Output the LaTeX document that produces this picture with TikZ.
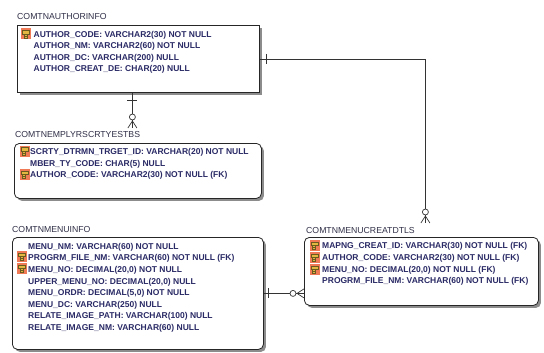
\documentclass[tikz,border=0pt]{standalone}
\usepackage{fontspec}
\setmainfont{Liberation Sans}
\usetikzlibrary{calc,shadows}
\definecolor{txt}{HTML}{2A2A66}
\definecolor{ttl}{HTML}{303048}
\definecolor{iconbg}{HTML}{F07A55}
\definecolor{iconkey}{HTML}{E2B840}
\definecolor{iconline}{HTML}{6A5A20}
\begin{document}
\begin{tikzpicture}[x=1pt,y=-1pt,
  ent/.style={draw=black!85, line width=0.8pt, fill=white, anchor=north west, inner sep=0pt,
    drop shadow={shadow xshift=2.5pt, shadow yshift=-2.5pt, fill=black!45, opacity=1}},
  rnd/.style={rounded corners=5pt},
  fld/.style={anchor=base west, inner sep=0pt, text=txt, font=\fontsize{8.5}{10}\selectfont\bfseries},
  ttlnode/.style={anchor=base west, inner sep=0pt, text=ttl, font=\fontsize{8.7}{10}\selectfont},
  conn/.style={draw=black!80, line width=0.7pt},
  keyicon/.pic={
    \fill[iconbg] (0,0) rectangle (10,11);
    \fill[iconkey, draw=iconline, line width=0.4pt] (1.5,2) rectangle (8.5,5.5);
    \fill[iconkey, draw=iconline, line width=0.4pt] (3,5.5) rectangle (6,9.5);
    \draw[iconline, line width=0.4pt] (3,7.5) -- (6,7.5);
  }
]
\useasboundingbox (0,0) rectangle (544,353);

% entities
\node[ent, minimum width=242, minimum height=67] (author) at (17,25) {};
\node[ent, rnd, minimum width=247, minimum height=55] (emp) at (14,143) {};
\node[ent, rnd, minimum width=251, minimum height=112] (menu) at (12,237) {};
\node[ent, rnd, minimum width=234, minimum height=68] (creat) at (304,237) {};

% titles
\node[ttlnode] (authorT) at (17,20) {COMTNAUTHORINFO};
\node[ttlnode] (empT) at (15,138) {COMTNEMPLYRSCRTYESTBS};
\node[ttlnode] (menuT) at (12,232) {COMTNMENUINFO};
\node[ttlnode] (creatT) at (306,233) {COMTNMENUCREATDTLS};

% fields
\foreach [count=\i from 0] \t in {{AUTHOR\_CODE: VARCHAR2(30) NOT NULL},{AUTHOR\_NM: VARCHAR2(60) NOT NULL},{AUTHOR\_DC: VARCHAR(200) NULL},{AUTHOR\_CREAT\_DE: CHAR(20) NULL}}
  \node[fld] (au\i) at (33.5,37.2+11.5*\i) {\t};

\foreach [count=\i from 0] \t in {{SCRTY\_DTRMN\_TRGET\_ID: VARCHAR(20) NOT NULL},{MBER\_TY\_CODE: CHAR(5) NULL},{AUTHOR\_CODE: VARCHAR2(30) NOT NULL (FK)}}
  \node[fld] (em\i) at (30,154.2+11.8*\i) {\t};

\foreach [count=\i from 0] \t in {{MENU\_NM: VARCHAR(60) NOT NULL},{PROGRM\_FILE\_NM: VARCHAR(60) NOT NULL (FK)},{MENU\_NO: DECIMAL(20,0) NOT NULL},{UPPER\_MENU\_NO: DECIMAL(20,0) NULL},{MENU\_ORDR: DECIMAL(5,0) NOT NULL},{MENU\_DC: VARCHAR(250) NULL},{RELATE\_IMAGE\_PATH: VARCHAR(100) NULL},{RELATE\_IMAGE\_NM: VARCHAR(60) NULL}}
  \node[fld] (me\i) at (28,249.2+11.6*\i) {\t};

\foreach [count=\i from 0] \t in {{MAPNG\_CREAT\_ID: VARCHAR(30) NOT NULL (FK)},{AUTHOR\_CODE: VARCHAR2(30) NOT NULL (FK)},{MENU\_NO: DECIMAL(20,0) NOT NULL (FK)},{PROGRM\_FILE\_NM: VARCHAR(60) NOT NULL (FK)}}
  \node[fld] (cr\i) at (322,248.2+11.9*\i) {\t};

% key icons
\pic at (21,28.5) {keyicon};
\pic at (19.5,145.5) {keyicon};
\pic at (19.5,169) {keyicon};
\pic at (17,251) {keyicon};
\pic at (17,263) {keyicon};
\pic at (309.5,240) {keyicon};
\pic at (309.5,252) {keyicon};
\pic at (309.5,264) {keyicon};

% connector author -> employee
\coordinate (c1s) at ([xshift=-6pt]author.south);
\coordinate (c1e) at ([xshift=-5.5pt,yshift=15pt]emp.north);
\draw[conn] (c1s) -- (c1s |- c1e);
\draw[conn] ($(c1s)+(-5,8)$) -- ($(c1s)+(5,8)$);
\draw[conn, fill=white] ($(c1s |- c1e)+(0,-11)$) circle (3pt);
\draw[conn] ($(c1s |- c1e)+(0,-7)$) -- ($(c1s |- c1e)+(-4.5,0)$)
            ($(c1s |- c1e)+(0,-7)$) -- ($(c1s |- c1e)+(4.5,0)$);

% connector author -> creat
\coordinate (c2e) at ([xshift=4pt,yshift=14pt]creat.north);
\draw[conn] (author.east) -| (c2e);
\draw[conn] ($(author.east)+(7,-5)$) -- ($(author.east)+(7,5)$);
\draw[conn, fill=white] ($(c2e)+(0,-11)$) circle (3pt);
\draw[conn] ($(c2e)+(0,-7)$) -- ($(c2e)+(-4.5,0)$)
            ($(c2e)+(0,-7)$) -- ($(c2e)+(4.5,0)$);

% connector menu -> creat
\coordinate (c3e) at (creat.west |- menu.east);
\draw[conn] (menu.east) -- (c3e);
\draw[conn] ($(menu.east)+(5,-5)$) -- ($(menu.east)+(5,5)$);
\draw[conn, fill=white] ($(c3e)+(-11,0)$) circle (3pt);
\draw[conn] ($(c3e)+(-7,0)$) -- ($(c3e)+(0,-4.5)$)
            ($(c3e)+(-7,0)$) -- ($(c3e)+(0,4.5)$);
\end{tikzpicture}
\end{document}
